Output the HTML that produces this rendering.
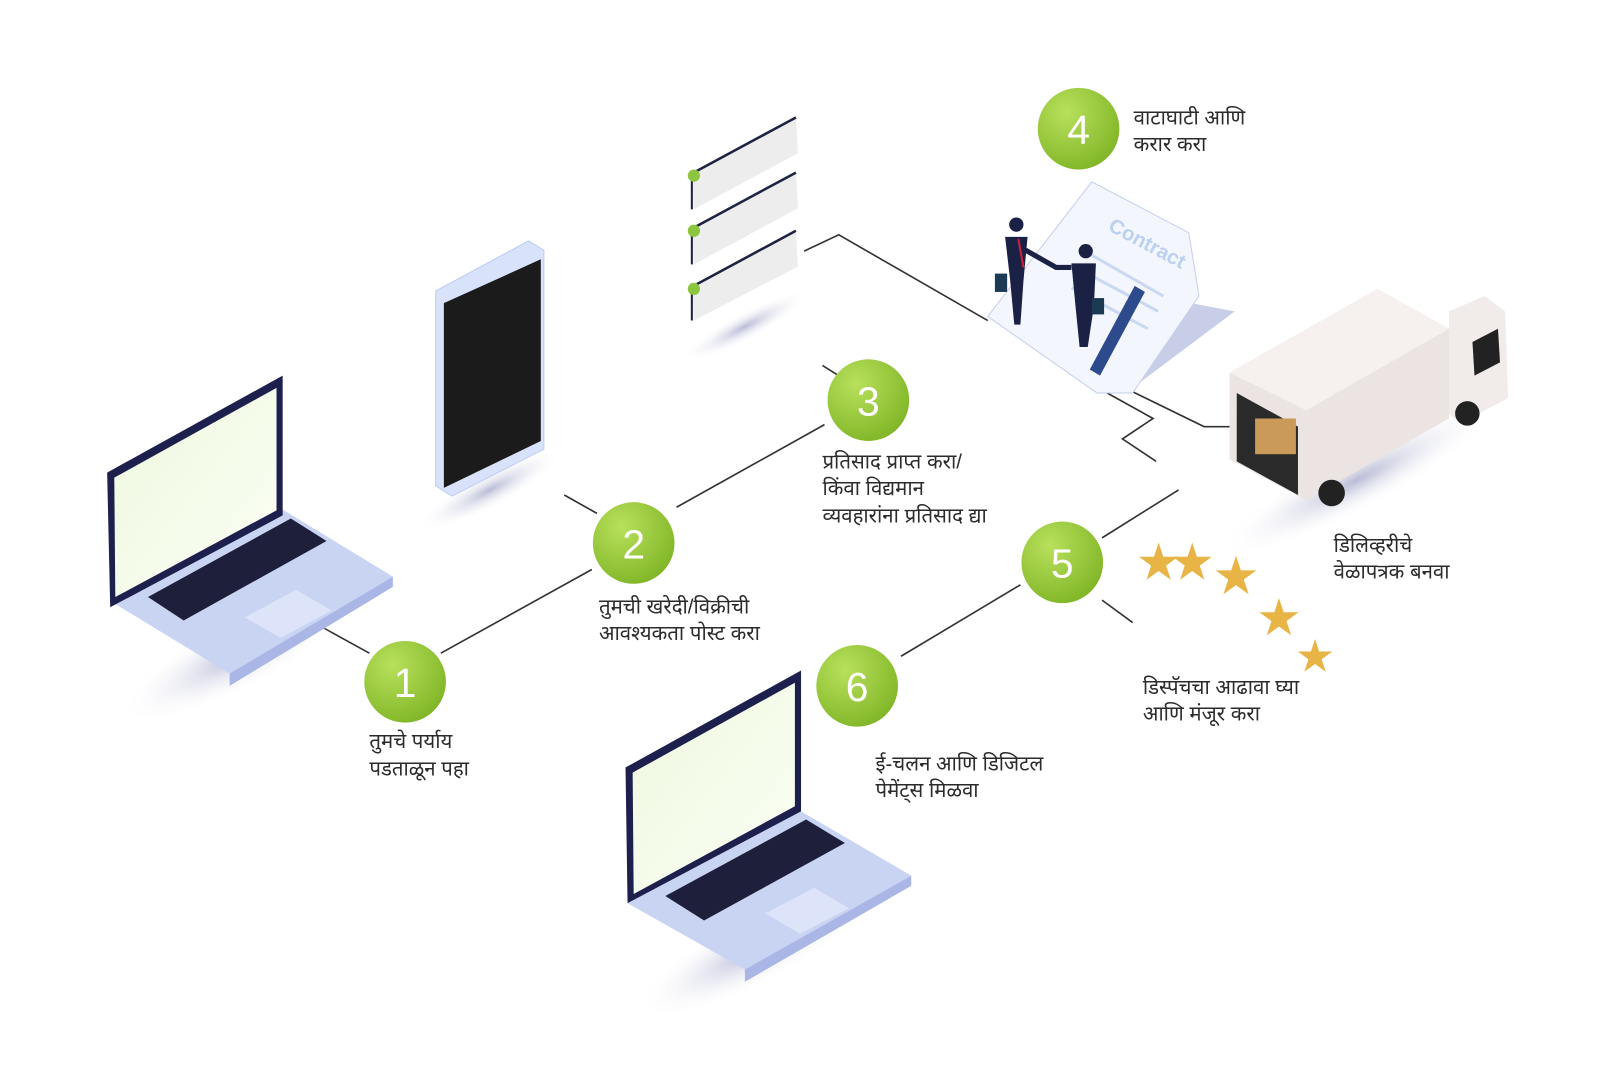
<!DOCTYPE html>
<html><head><meta charset="utf-8">
<style>
html,body{margin:0;padding:0;background:#fff;}
svg{display:block;}
text{font-family:"Liberation Sans","Noto Sans Devanagari","Lohit Devanagari",sans-serif;fill:#2b2b2b;}
.n{font-family:"Liberation Sans",sans-serif;fill:#fff;font-size:40px;text-anchor:middle;}
.l{font-size:20px;}
</style></head><body>
<svg width="1600" height="1088" viewBox="0 0 1568 1066" xmlns="http://www.w3.org/2000/svg">
<defs>
<radialGradient id="g" cx="0.35" cy="0.3" r="0.8">
<stop offset="0" stop-color="#b8e05c"/><stop offset="1" stop-color="#7db324"/></radialGradient>
<linearGradient id="scr" x1="0" y1="0" x2="1" y2="1"><stop offset="0" stop-color="#eef8e0"/><stop offset="1" stop-color="#fbfff4"/></linearGradient>
<radialGradient id="sh"><stop offset="0" stop-color="#b9bcd6"/><stop offset="1" stop-color="#fff" stop-opacity="0"/></radialGradient>
</defs>
<g stroke="#333" stroke-width="1.6" fill="none">
<path d="M313 613 L362 640"/><path d="M432 640 L580 558"/>
<path d="M553 485 L585 503"/><path d="M663 497 L808 416"/>
<path d="M806 358 L822 368"/>
<path d="M788 246 L822 230 L968 314"/>
<path d="M1096 377 L1180 418 L1205 418"/>
<path d="M1085 385 L1130 410 L1100 430 L1133 452"/>
<path d="M1080 527 L1155 480"/><path d="M883 643 L1000 573"/><path d="M1080 588 L1110 610"/>
</g>
<ellipse cx="235" cy="640" rx="130" ry="35" fill="url(#sh)" transform="rotate(-28 235 640)"/>
<polygon points="110,590 275,498 385,565 225,660" fill="#c9d4f3"/>
<polygon points="225,660 385,565 385,575 225,672" fill="#a9b6e6"/>
<polygon points="145,585 285,508 320,530 180,608" fill="#1d1f3b"/>
<polygon points="240,605 290,578 325,598 275,625" fill="#dde4fa"/>
<polygon points="105,463 277,368 277,505 108,595" fill="#1d1f4d"/>
<polygon points="112,468 271,380 271,500 113,585" fill="url(#scr)"/>
<ellipse cx="740" cy="930" rx="130" ry="35" fill="url(#sh)" transform="rotate(-28 740 930)"/>
<polygon points="615,885 785,795 893,858 730,950" fill="#c9d4f3"/>
<polygon points="730,950 893,858 893,868 730,962" fill="#a9b6e6"/>
<polygon points="652,878 790,803 828,826 690,902" fill="#1d1f3b"/>
<polygon points="750,895 798,870 832,890 784,915" fill="#dde4fa"/>
<polygon points="613,752 785,657 785,795 615,885" fill="#1d1f4d"/>
<polygon points="620,757 779,669 779,790 621,876" fill="url(#scr)"/>
<ellipse cx="480" cy="480" rx="80" ry="18" fill="url(#sh)" transform="rotate(-28 480 480)"/>
<polygon points="427,285 518,236 533,245 533,440 443,486 427,476" fill="#d8e3fb" stroke="#bcccf0"/>
<polygon points="435,297 530,254 530,432 435,478" fill="#1b1b1b"/>
<g>
<ellipse cx="730" cy="320" rx="70" ry="14" fill="url(#sh)" transform="rotate(-28 730 320)"/>
<polygon points="678,170 780,115 782,150 680,205" fill="#ededed"/><path d="M678 170 L780 115" stroke="#1d2340" stroke-width="2.5"/><path d="M678 170 L678 205" stroke="#1d2340" stroke-width="2"/>
<polygon points="678,224 780,169 782,204 680,259" fill="#ededed"/><path d="M678 224 L780 169" stroke="#1d2340" stroke-width="2.5"/><path d="M678 224 L678 259" stroke="#1d2340" stroke-width="2"/>
<polygon points="678,281 780,226 782,261 680,314" fill="#ededed"/><path d="M678 281 L780 226" stroke="#1d2340" stroke-width="2.5"/><path d="M678 281 L678 314" stroke="#1d2340" stroke-width="2"/>
<circle cx="680" cy="172" r="6" fill="#8cc63f"/><circle cx="680" cy="226" r="6" fill="#8cc63f"/><circle cx="680" cy="283" r="6" fill="#8cc63f"/>
</g>
<polygon points="1130,290 1210,305 1110,380" fill="#c8cde8"/>
<polygon points="968,310 1070,178 1165,228 1175,290 1110,385 1075,385" fill="#f3f6fd" stroke="#c4cfee"/>
<text x="1085" y="225" transform="rotate(28 1085 225)" style="fill:#bcd0f0;font-size:20px;font-weight:bold">Contract</text>
<g stroke="#cbd8f2" stroke-width="3"><path d="M1070 250 L1140 290"/><path d="M1060 265 L1135 305"/><path d="M1050 282 L1125 322"/></g>
<polygon points="985,232 1007,232 1003,275 1000,318 994,318 990,275" fill="#1b2045"/><circle cx="996" cy="220" r="7" fill="#1b2045"/>
<path d="M998 234 L1003 262" stroke="#d02040" stroke-width="2"/>
<rect x="975" y="268" width="12" height="18" fill="#1d3a55"/>
<polygon points="1050,258 1074,258 1072,300 1066,340 1058,340 1054,300" fill="#1b2045"/><circle cx="1064" cy="246" r="7" fill="#1b2045"/>
<path d="M1005 245 L1035 262 L1050 262" stroke="#1b2045" stroke-width="5" fill="none"/>
<rect x="1070" y="292" width="12" height="16" fill="#1d3a55"/>
<polygon points="1112,280 1122,286 1078,368 1068,362" fill="#2c4a8c"/>
<ellipse cx="1330" cy="470" rx="150" ry="30" fill="url(#sh)" transform="rotate(-28 1330 470)"/>
<polygon points="1420,305 1455,290 1475,305 1478,390 1430,415 1420,405" fill="#f1ecea"/>
<polygon points="1443,335 1468,322 1470,355 1445,368" fill="#222"/>
<circle cx="1438" cy="405" r="12" fill="#222"/>
<polygon points="1205,365 1350,283 1420,322 1420,410 1280,490 1205,450" fill="#ebe4e2"/>
<polygon points="1205,365 1350,283 1420,322 1280,402" fill="#f6f1ef"/>
<polygon points="1212,385 1272,418 1272,485 1212,452" fill="#2a2a2a"/>
<rect x="1230" y="410" width="40" height="35" fill="#c99a5a"/>
<circle cx="1305" cy="483" r="13" fill="#222"/>
<g style="font-family:'DejaVu Sans',sans-serif">
<text x="1113" y="568" style="fill:#e9b446;font-size:50px">★</text><text x="1146" y="568" style="fill:#e9b446;font-size:50px">★</text>
<text x="1188" y="582" style="fill:#e9b446;font-size:52px">★</text><text x="1231" y="622" style="fill:#e9b446;font-size:50px">★</text>
<text x="1269" y="658" style="fill:#e9b446;font-size:44px">★</text>
</g>
<g fill="url(#g)">
<circle cx="397" cy="668" r="40"/><circle cx="621" cy="532" r="40"/><circle cx="851" cy="392" r="40"/>
<circle cx="1057" cy="126" r="40"/><circle cx="1041" cy="551" r="40"/><circle cx="840" cy="672" r="40"/>
</g>
<text class="n" x="397" y="683">1</text><text class="n" x="621" y="547">2</text><text class="n" x="851" y="407">3</text>
<text class="n" x="1057" y="141">4</text><text class="n" x="1041" y="566">5</text><text class="n" x="840" y="687">6</text>
<text class="l" x="362" y="733">तुमचे पर्याय</text><text class="l" x="362" y="760">पडताळून पहा</text>
<text class="l" x="587" y="601">तुमची खरेदी/विक्रीची</text><text class="l" x="587" y="627">आवश्यकता पोस्ट करा</text>
<text class="l" x="806" y="459">प्रतिसाद प्राप्त करा/</text><text class="l" x="806" y="485">किंवा विद्यमान</text><text class="l" x="806" y="512">व्यवहारांना प्रतिसाद द्या</text>
<text class="l" x="1111" y="122">वाटाघाटी आणि</text><text class="l" x="1111" y="148">करार करा</text>
<text class="l" x="1307" y="541">डिलिव्हरीचे</text><text class="l" x="1307" y="567">वेळापत्रक बनवा</text>
<text class="l" x="1120" y="680">डिस्पॅचचा आढावा घ्या</text><text class="l" x="1120" y="706">आणि मंजूर करा</text>
<text class="l" x="858" y="755">ई-चलन आणि डिजिटल</text><text class="l" x="858" y="781">पेमेंट्स मिळवा</text>
</svg>
</body></html>
